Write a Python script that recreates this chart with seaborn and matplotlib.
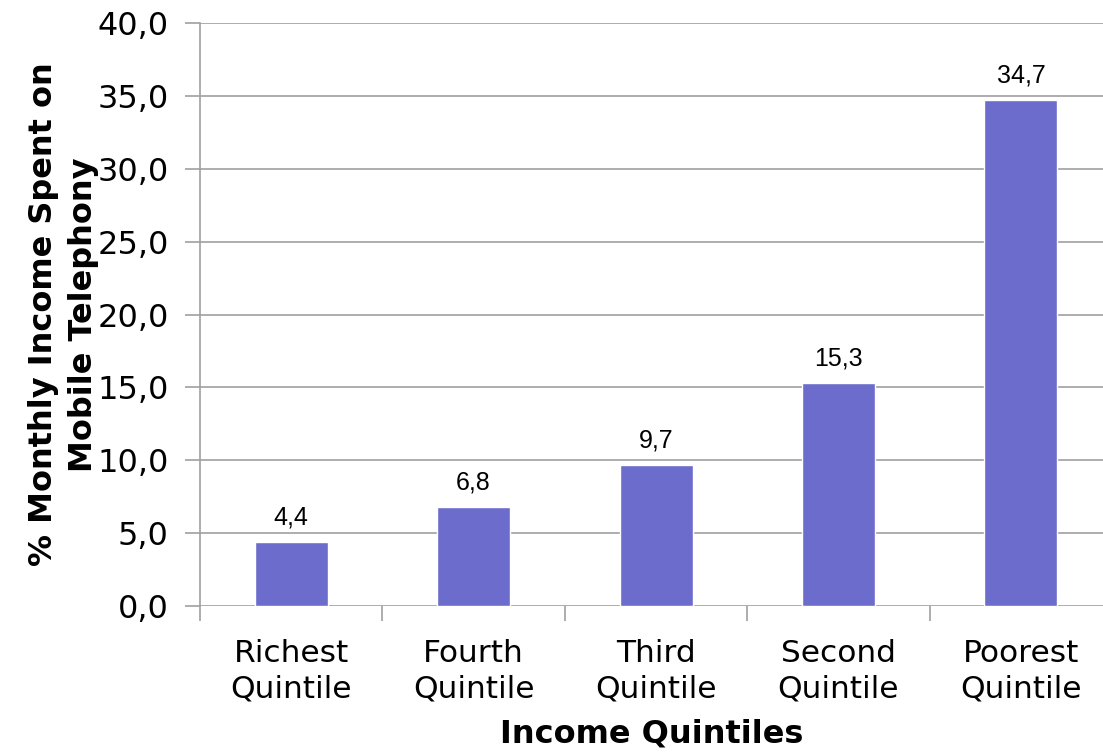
import matplotlib
matplotlib.use("Agg")
import matplotlib.pyplot as plt
import numpy as np
import pandas as pd
import seaborn as sns
from matplotlib.ticker import FixedLocator, FuncFormatter

CATEGORIES = ["Richest\nQuintile", "Fourth\nQuintile", "Third\nQuintile", "Second\nQuintile", "Poorest\nQuintile"]
SHARE = [4.4, 6.8, 9.7, 15.3, 34.7]
Y_TICKS = [0, 5, 10, 15, 20, 25, 30, 35, 40]

BAR_COLOR = "#6C6CCD"
GRID_COLOR = "#A0A0A0"


def main() -> None:
    sns.set_theme(style="white")
    plt.rcParams["font.family"] = ["DejaVu Sans"]
    plt.rcParams["text.color"] = "black"
    plt.rcParams["axes.labelcolor"] = "black"

    df = pd.DataFrame({"quintile": CATEGORIES, "share": SHARE})

    fig = plt.figure(figsize=(11.03, 7.52), dpi=100)
    ax = fig.add_axes([0.1813, 0.1941, 0.8187, 0.7753])

    sns.barplot(data=df, x="quintile", y="share", color=BAR_COLOR, width=0.4,
                saturation=1, ax=ax, zorder=3)

    ax.set_ylim(0, 40)
    ax.set_xlim(-0.5, 4.45)
    ax.set_yticks(Y_TICKS)
    ax.yaxis.set_major_formatter(FuncFormatter(lambda v, _: f"{v:.1f}".replace(".", ",")))
    ax.tick_params(axis="y", left=True, labelsize=23, length=11, width=1.2, color=GRID_COLOR,
                   labelcolor="black", direction="out", pad=11.5)
    ax.tick_params(axis="x", which="major", labelsize=22.5, length=0, pad=24, labelcolor="black")
    ax.xaxis.set_minor_locator(FixedLocator(np.arange(-0.5, 4.6, 1.0)))
    ax.tick_params(axis="x", which="minor", bottom=True, length=11, width=1.2, color=GRID_COLOR,
                   direction="out")
    for lab in ax.get_xticklabels():
        lab.set_linespacing(1.25)

    ax.yaxis.grid(True, color=GRID_COLOR, linewidth=1.2, zorder=0)
    ax.set_axisbelow(True)
    for side in ["top", "right", "bottom"]:
        ax.spines[side].set_visible(False)
    ax.spines["left"].set_color(GRID_COLOR)
    ax.spines["left"].set_linewidth(1.2)

    labels = [f"{v:.1f}".replace(".", ",") for v in SHARE]
    ax.bar_label(ax.containers[0], labels=labels, padding=9, fontsize=18, color="black",
                 family=["Liberation Sans", "DejaVu Sans"])

    ax.set_xlabel("Income Quintiles", fontsize=23, fontweight="bold", labelpad=11)
    ax.set_ylabel("% Monthly Income Spent on\nMobile Telephony", fontsize=23,
                  fontweight="bold", labelpad=-1, linespacing=1.35)

    fig.savefig("out.png", dpi=100)
    plt.close(fig)


if __name__ == "__main__":
    main()
